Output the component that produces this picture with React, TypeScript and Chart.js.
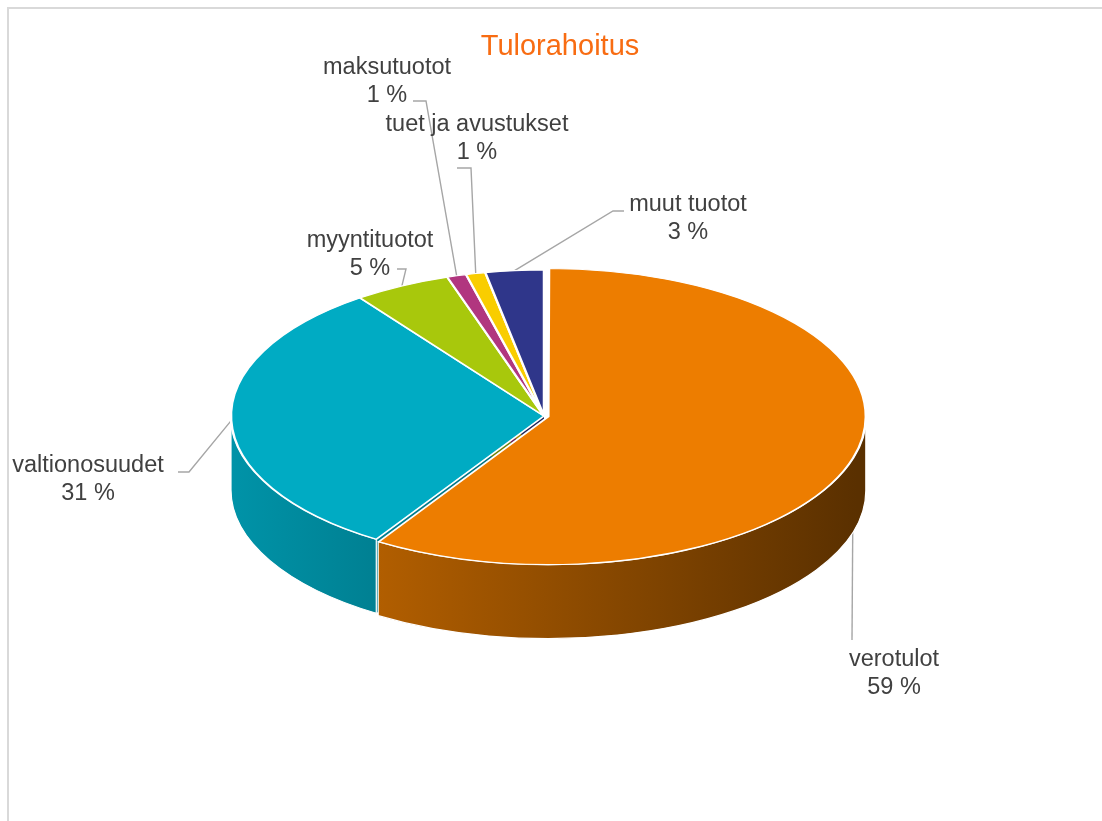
import React, { useEffect, useRef } from "react";
import { Chart, registerables } from "chart.js";

Chart.register(...registerables);

// ---- data ----
const categories = ["verotulot", "valtionosuudet", "myyntituotot", "maksutuotot", "tuet ja avustukset", "muut tuotot"];
const shares = [59, 31, 5, 1, 1, 3];
const sliceColors = ["#ED7D00", "#00ABC3", "#A8C80C", "#B1367F", "#F9CD00", "#2F368A"];
const explodeOffsets = [18, 0, 0, 0, 0, 0];
const chartTitle = "Tulorahoitus";

// ---- layout (label text anchors: centre x, first baseline y) ----
const labelAnchors = [
  { x: 894, y: 666 },
  { x: 88, y: 472 },
  { x: 370, y: 247 },
  { x: 387, y: 74 },
  { x: 477, y: 131 },
  { x: 688, y: 211 },
];
const leaderBends: number[][][] = [
  [[852, 640]],
  [[178, 472], [189, 472]],
  [[397, 269], [406, 269]],
  [[413, 101], [426, 101]],
  [[457, 168], [471, 168]],
  [[624, 211], [613, 211]],
];

const W = 1102;
const H = 821;
const CX = 544;
const CY = 416;
const RADIUS = 313;
const TILT = 146 / 313;
const DEPTH = 74;
const LINE_GAP = 28;
const FONT = '"Liberation Sans", Arial, Helvetica, sans-serif';

function hexToRgb(hex: string) {
  const h = hex.replace("#", "");
  return [parseInt(h.slice(0, 2), 16), parseInt(h.slice(2, 4), 16), parseInt(h.slice(4, 6), 16)];
}
function shade(hex: string, f: number) {
  const [r, g, b] = hexToRgb(hex);
  return `rgb(${Math.round(r * f)},${Math.round(g * f)},${Math.round(b * f)})`;
}

function arcGeom(el: any, cy: number) {
  const off = ((el.options && el.options.offset) || 0) / 4;
  const half = (el.startAngle + el.endAngle) / 2;
  const circ = el.endAngle - el.startAngle;
  const fix = 1 - Math.sin(Math.min(Math.PI, circ));
  const R = el.outerRadius + off * fix;
  const ex = el.x + Math.cos(half) * off;
  const eyRaw = el.y + Math.sin(half) * off;
  const ey = cy + TILT * (eyRaw - cy);
  return { ex, ey, R, ry: R * TILT, a0: el.startAngle, a1: el.endAngle, half };
}

const pie3dPlugin = {
  id: "pie3d",
  beforeDatasetsDraw(chart: any) {
    const ctx = chart.ctx as CanvasRenderingContext2D;
    const area = chart.chartArea;
    const cy = (area.top + area.bottom) / 2;
    const meta = chart.getDatasetMeta(0);
    const geoms = meta.data.map((el: any) => arcGeom(el, cy));

    // leader lines (drawn first so the pie body covers their ends)
    ctx.save();
    ctx.strokeStyle = "#A6A6A6";
    ctx.lineWidth = 1.4;
    geoms.forEach((g: any, i: number) => {
      const px = g.ex + g.R * Math.cos(g.half);
      const py = g.ey + g.ry * Math.sin(g.half);
      const bends = leaderBends[i];
      ctx.beginPath();
      ctx.moveTo(bends[0][0], bends[0][1]);
      for (let k = 1; k < bends.length; k++) ctx.lineTo(bends[k][0], bends[k][1]);
      ctx.lineTo(px, py);
      ctx.stroke();
    });
    ctx.restore();

    const grads = geoms.map((g: any, i: number) => {
      const gr = ctx.createLinearGradient(CX - RADIUS, 0, CX + RADIUS, 0);
      gr.addColorStop(0, shade(sliceColors[i], 0.86));
      gr.addColorStop(1, shade(sliceColors[i], 0.38));
      return gr;
    });

    // radial cut faces
    ctx.save();
    geoms.forEach((g: any, i: number) => {
      const ends: [number, number][] = [[g.a0, -1], [g.a1, 1]];
      ends.forEach(([th, side]) => {
        const c = Math.cos(th);
        const visible = side < 0 ? c < -1e-6 : c > 1e-6;
        if (!visible) return;
        const px = g.ex + g.R * Math.cos(th);
        const py = g.ey + g.ry * Math.sin(th);
        ctx.beginPath();
        ctx.moveTo(g.ex, g.ey);
        ctx.lineTo(px, py);
        ctx.lineTo(px, py + DEPTH);
        ctx.lineTo(g.ex, g.ey + DEPTH);
        ctx.closePath();
        ctx.fillStyle = grads[i];
        ctx.fill();
      });
    });

    // outer walls (front half only)
    geoms.forEach((g: any, i: number) => {
      const s = Math.max(g.a0, 0);
      const e = Math.min(g.a1, Math.PI);
      if (e <= s) return;
      ctx.beginPath();
      ctx.ellipse(g.ex, g.ey, g.R, g.ry, 0, s, e, false);
      ctx.ellipse(g.ex, g.ey + DEPTH, g.R, g.ry, 0, e, s, true);
      ctx.closePath();
      ctx.fillStyle = grads[i];
      ctx.fill();
      ctx.strokeStyle = "#ffffff";
      ctx.lineWidth = 1.2;
      ctx.stroke();
    });
    ctx.restore();

    // squash the top faces into an ellipse
    ctx.save();
    ctx.translate(0, cy);
    ctx.scale(1, TILT);
    ctx.translate(0, -cy);
  },
  afterDatasetsDraw(chart: any) {
    const ctx = chart.ctx as CanvasRenderingContext2D;
    ctx.restore();

    ctx.save();
    ctx.fillStyle = "#404040";
    ctx.font = `23.5px ${FONT}`;
    ctx.textAlign = "center";
    ctx.textBaseline = "alphabetic";
    categories.forEach((name, i) => {
      const a = labelAnchors[i];
      ctx.fillText(name, a.x, a.y);
      ctx.fillText(`${shares[i]} %`, a.x, a.y + LINE_GAP);
    });
    ctx.fillStyle = "#F86C12";
    ctx.font = `29px ${FONT}`;
    ctx.fillText(chartTitle, 560, 55);
    ctx.restore();
  },
};

export default function App() {
  const canvasRef = useRef<HTMLCanvasElement | null>(null);

  useEffect(() => {
    const canvas = canvasRef.current;
    if (!canvas) return;
    const half = RADIUS + 17;
    const chart = new Chart(canvas, {
      type: "pie",
      data: {
        labels: categories,
        datasets: [
          {
            data: shares,
            backgroundColor: sliceColors,
            borderColor: "#ffffff",
            borderWidth: 2.5,
            borderJoinStyle: "round",
            offset: explodeOffsets,
            radius: RADIUS,
          } as any,
        ],
      },
      options: {
        responsive: false,
        animation: false,
        devicePixelRatio: 1,
        layout: {
          padding: {
            left: CX - half,
            right: W - (CX + half),
            top: CY - half,
            bottom: H - (CY + half),
          },
        },
        plugins: {
          legend: { display: false },
          tooltip: { enabled: false },
          title: { display: false },
        },
        events: [],
      },
      plugins: [pie3dPlugin],
    });
    return () => chart.destroy();
  }, []);

  return (
    <div style={{ position: "fixed", left: 0, top: 0, width: W, height: H, overflow: "hidden", background: "#ffffff" }}>
      <div
        style={{
          position: "absolute",
          left: 7,
          top: 7,
          width: W + 100,
          height: H + 100,
          border: "2px solid #d9d9d9",
        }}
      />
      <canvas ref={canvasRef} width={W} height={H} style={{ position: "absolute", left: 0, top: 0 }} />
    </div>
  );
}
